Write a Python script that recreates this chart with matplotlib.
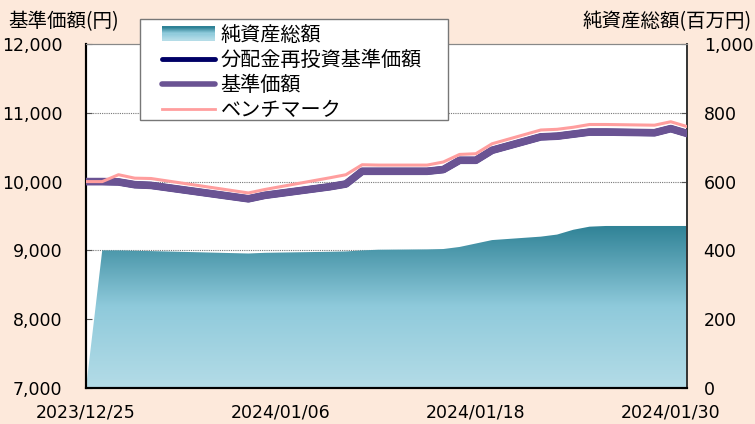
import numpy as np
import matplotlib
matplotlib.use("Agg")
import matplotlib.pyplot as plt
import matplotlib.dates as mdates
from matplotlib.colors import LinearSegmentedColormap
from matplotlib.legend_handler import HandlerBase, HandlerLine2D
from matplotlib.patches import Rectangle, Patch
from matplotlib.lines import Line2D

plt.rcParams['font.family'] = ['Noto Sans CJK JP', 'DejaVu Sans']

# business days of the fund
dates = np.array([
    '2023-12-25', '2023-12-26', '2023-12-27', '2023-12-28', '2023-12-29',
    '2024-01-04', '2024-01-05', '2024-01-09', '2024-01-10', '2024-01-11',
    '2024-01-12', '2024-01-15', '2024-01-16', '2024-01-17', '2024-01-18',
    '2024-01-19', '2024-01-22', '2024-01-23', '2024-01-24', '2024-01-25',
    '2024-01-26', '2024-01-29', '2024-01-30', '2024-01-31'], dtype='datetime64[D]')

base_price = [10000, 10000, 9995, 9955, 9945, 9750, 9800, 9925, 9965, 10150,
              10150, 10150, 10175, 10310, 10310, 10455, 10650, 10660, 10690, 10720,
              10720, 10710, 10770, 10700]
reinvested = list(base_price)
benchmark = [10000, 10000, 10100, 10050, 10045, 9835, 9885, 10055, 10100, 10245,
             10240, 10240, 10285, 10395, 10405, 10550, 10750, 10760, 10790, 10830,
             10830, 10820, 10870, 10800]
net_assets = [0, 400, 400, 399, 398, 391, 393, 396, 397, 400,
              402, 403, 404, 410, 420, 430, 440, 446, 460, 469,
              471, 471, 471, 471]

tick_dates = np.array(['2023-12-25', '2024-01-06', '2024-01-18', '2024-01-30'], dtype='datetime64[D]')
price_ticks = [7000, 8000, 9000, 10000, 11000, 12000]
asset_ticks = [0, 200, 400, 600, 800, 1000]

bg = '#fde9db'
grad = LinearSegmentedColormap.from_list('na', [(0, '#b4dce7'), (0.5, '#8fcadb'), (1.0, '#2f8296')])
num_font = 'DejaVu Sans'

x = mdates.date2num(dates.astype('datetime64[s]').astype(object))
xticks = mdates.date2num(tick_dates.astype('datetime64[s]').astype(object))
xmin, xmax = x[0], x[-1]

fig = plt.figure(figsize=(7.55, 4.24), dpi=100, facecolor=bg)
ax = fig.add_axes([86 / 755, 36 / 424, 601 / 755, 344 / 424])
ax.set_facecolor('white')

# net assets area with vertical gradient (right scale)
poly = ax.fill_between(x, 0, net_assets, facecolor='none', edgecolor='none', zorder=2)
top = max(net_assets)
img = ax.imshow(np.linspace(0, 1, 256).reshape(-1, 1), cmap=grad, origin='lower',
                extent=[xmin, xmax, 0, top], aspect='auto', zorder=2)
img.set_clip_path(poly.get_paths()[0], transform=ax.transData)
ax.set_ylim(0, 1000)
ax.set_xlim(xmin, xmax)
for yv in [400, 600, 800]:
    ax.axhline(yv, color='#777777', lw=0.8, ls=(0, (1, 1)), zorder=1)

# price lines (left scale)
axp = ax.twinx()
axp.plot(x, reinvested, color='#000066', lw=5, zorder=3, solid_joinstyle='round')
axp.plot(x, base_price, color='#6a5393', lw=5.5, zorder=4, solid_joinstyle='round')
axp.plot(x, benchmark, color='#ff9e9e', lw=2.2, zorder=5, solid_joinstyle='round')
axp.set_ylim(7000, 12000)

# twinx puts the original axis on the left, so swap them back
ax.yaxis.tick_right()
axp.yaxis.tick_left()
ax.set_yticks(asset_ticks)
ax.set_yticklabels([f'{v:,}' for v in asset_ticks], family=num_font, fontsize=12.5)
axp.set_yticks(price_ticks)
axp.set_yticklabels([f'{v:,}' for v in price_ticks], family=num_font, fontsize=12.5)

ax.set_xticks(xticks)
ax.set_xticklabels([str(d).replace('-', '/') for d in tick_dates], family=num_font, fontsize=12.5)

for a in (ax, axp):
    a.tick_params(axis='both', direction='in', length=4, color='#555555')
    a.spines['top'].set_color('#888888')
    a.spines['left'].set_color('black')
    a.spines['left'].set_linewidth(1.5)
    a.spines['bottom'].set_color('black')
    a.spines['bottom'].set_linewidth(1.5)
    a.spines['right'].set_color('#333333')
    a.spines['right'].set_linewidth(1.2)
ax.tick_params(axis='x', pad=11)
ax.tick_params(axis='y', pad=12)
axp.tick_params(axis='y', pad=17)

fig.text(8 / 755, 1 - 22 / 424, '基準価額(円)', fontsize=14, va='center', ha='left')
fig.text(752 / 755, 1 - 22 / 424, '純資産総額(百万円)', fontsize=14, va='center', ha='right')


class GradientHandler(HandlerBase):
    def create_artists(self, legend, orig_handle, xdescent, ydescent, width, height, fontsize, trans):
        n = 12
        arts = []
        for i in range(n):
            r = Rectangle((-xdescent, -ydescent + height * i / n), width, height / n + 0.2,
                          facecolor=grad(i / (n - 1)), edgecolor='none', transform=trans)
            arts.append(r)
        return arts


# legend box drawn separately so it can be wider than its text
box = Rectangle((140 / 755, 1 - 120 / 424), 308 / 755, 101 / 424, transform=fig.transFigure,
                facecolor='white', edgecolor='#777777', lw=1, zorder=9)
fig.patches.append(box)

handles = [Patch(), Line2D([], [], color='#000066', lw=3.5, solid_capstyle='round'),
           Line2D([], [], color='#6a5393', lw=4, solid_capstyle='round'),
           Line2D([], [], color='#ff9e9e', lw=2)]
labels = ['純資産総額', '分配金再投資基準価額', '基準価額', 'ベンチマーク']
leg = fig.legend(handles, labels, loc='upper left', bbox_to_anchor=(140 / 755, 1 - 20.5 / 424),
                 handler_map={Patch: GradientHandler(xpad=0.9), Line2D: HandlerLine2D(xpad=0.9)},
                 fontsize=14.5, frameon=False, borderaxespad=0,
                 handlelength=3.5, handletextpad=0.3, labelspacing=0.2, borderpad=0.2)
leg.set_zorder(10)

fig.savefig('out.png', dpi=100, facecolor=bg)
